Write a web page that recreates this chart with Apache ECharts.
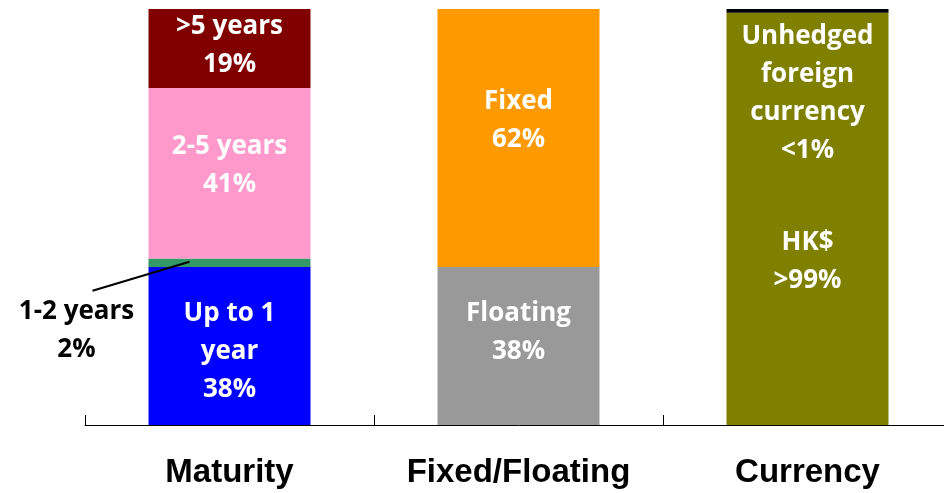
<!DOCTYPE html>
<html><head><meta charset="utf-8">
<script src="https://cdn.jsdelivr.net/npm/echarts@6/dist/echarts.min.js"></script>
<style>html,body{margin:0;padding:0;background:#fff;overflow:hidden}#c{width:952px;height:493px}</style>
</head><body><div id="c"></div>
<script>
const categories = ['Maturity', 'Fixed/Floating', 'Currency'];
const upTo1Year = [38, '-', '-'];
const oneToTwoYears = [2, '-', '-'];
const twoToFiveYears = [41, '-', '-'];
const overFiveYears = [19, '-', '-'];
const floating = ['-', 38, '-'];
const fixed = ['-', 62, '-'];
const hkd = ['-', '-', 99.1];
const unhedged = ['-', '-', 0.9];
const labelTexts = {
  up1: 'Up to 1\nyear\n38%',
  y12: '1-2 years\n2%',
  y25: '2-5 years\n41%',
  y5: '>5 years\n19%',
  floating: 'Floating\n38%',
  fixed: 'Fixed\n62%',
  hkd: 'HK$\n>99%',
  unhedged: 'Unhedged\nforeign\ncurrency\n<1%'
};

const FONT = 'Open Sans';
function lbl(text, extra) {
  return Object.assign({
    show: true, position: 'inside', formatter: text, color: '#fff',
    fontFamily: FONT, fontWeight: 'bold', fontSize: 26, lineHeight: 38, align: 'center'
  }, extra || {});
}
function s(name, data, color, label) {
  return { name, type: 'bar', stack: 'all', data, barWidth: 162, itemStyle: { color }, label, silent: true };
}
const chart = echarts.init(document.getElementById('c'));
chart.setOption({
  animation: false,
  grid: { left: 85, right: 0, top: 9, bottom: 68, containLabel: false },
  xAxis: {
    type: 'category', data: categories,
    axisLine: { lineStyle: { color: '#000', width: 1 } },
    axisTick: { show: true, inside: true, length: 10, interval: 0, lineStyle: { color: '#000' } },
    axisLabel: { color: '#000', fontFamily: 'Liberation Sans', fontWeight: 'bold', fontSize: 33, margin: 31, interval: 0, hideOverlap: false }
  },
  yAxis: { type: 'value', min: 0, max: 100, show: false },
  series: [
    s('Up to 1 year', upTo1Year, '#0000FF', lbl(labelTexts.up1, { offset: [0, 6] })),
    s('1-2 years', oneToTwoYears, '#339966', lbl(labelTexts.y12, { position: 'left', color: '#000', distance: 5, offset: [-67, 68] })),
    s('2-5 years', twoToFiveYears, '#FF99CC', lbl(labelTexts.y25, { offset: [0, -8] })),
    s('>5 years', overFiveYears, '#800000', lbl(labelTexts.y5, { offset: [0, -3] })),
    s('Floating', floating, '#999999', lbl(labelTexts.floating, { offset: [0, -13] })),
    s('Fixed', fixed, '#FF9900', lbl(labelTexts.fixed, { offset: [0, -17] })),
    s('HK$', hkd, '#808000', lbl(labelTexts.hkd, { offset: [0, 43] })),
    s('Unhedged', unhedged, '#000000', lbl(labelTexts.unhedged, { position: 'bottom', distance: 5 }))
  ]
});
// leader line for 1-2 years label
const p = chart.convertToPixel({ seriesIndex: 1 }, ['Maturity', 39]);
chart.setOption({
  graphic: [{ type: 'line', z: 100, shape: { x1: p[0] - 40, y1: p[1] - 1, x2: p[0] - 137, y2: p[1] + 28 }, style: { stroke: '#000', lineWidth: 2 }, silent: true }]
});
</script></body></html>
